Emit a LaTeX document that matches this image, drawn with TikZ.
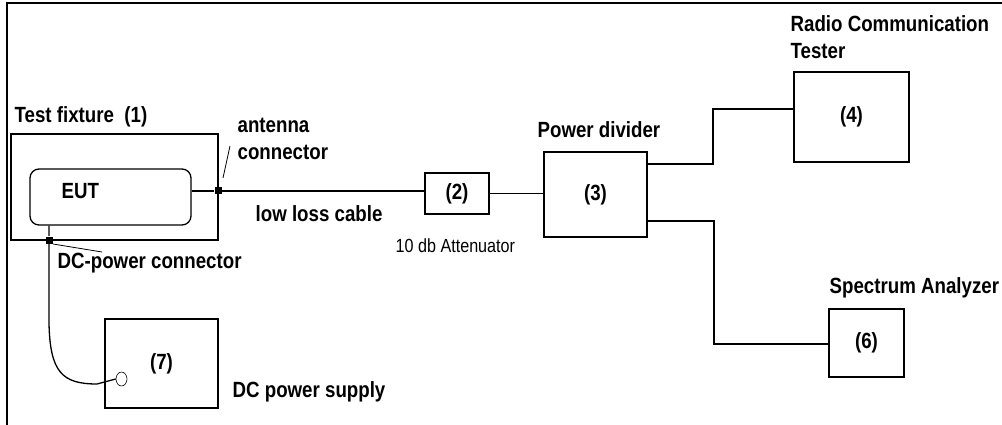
\documentclass[tikz,border=0pt]{standalone}
\usepackage{fontspec}
\setmainfont{Liberation Sans}
\newfontfamily\narrowfont{Liberation Sans}[FakeStretch=0.85]
\newfontfamily\thinfont{Liberation Sans}[FakeStretch=0.85]
\usetikzlibrary{positioning,calc,shapes.geometric}

\begin{document}
\begin{tikzpicture}[x=1pt,y=-1pt,line width=1.3pt,
  lbl/.style={inner sep=0pt,font=\narrowfont\bfseries\fontsize{22}{27}\selectfont},
  small/.style={inner sep=0pt,font=\thinfont\fontsize{19}{22}\selectfont},
  unit/.style={draw,inner sep=0pt,font=\narrowfont\bfseries\fontsize{22}{27}\selectfont},
  jack/.style={fill,inner sep=0pt,minimum size=7pt}]
  \useasboundingbox (0,0) rectangle (1002,425);
  \draw (1002,3) -- (7,3) -- (7,425);

  % test fixture with the EUT inside
  \node[unit,minimum width=207,minimum height=106] (fixture) at (114.5,187) {};
  \node[unit,rounded corners=9pt,minimum width=161,minimum height=56] (eut) at (110.5,197) {};
  \node[lbl,anchor=base west] (euttxt) at (61,199) {EUT};
  \node[lbl,anchor=base west] (fixtxt) at (14,123) {Test fixture~~(1)};
  \node[jack] (ant) at (218,191) {};
  \node[jack] (dcjack) at (49,240) {};

  % measuring chain
  \node[unit,minimum width=64,minimum height=41] (att) at (457,193.5) {(2)};
  \node[unit,minimum width=103,minimum height=85] (div) at (595.5,194.5) {(3)};
  \node[unit,minimum width=115,minimum height=90] (rct) at (851.5,117) {(4)};
  \node[unit,minimum width=75,minimum height=68] (sa) at (866.5,343) {(6)};
  \node[unit,minimum width=113,minimum height=89] (psu) at (161.5,363.5) {(7)};
  \node[draw,ellipse,inner sep=0pt,minimum width=11,minimum height=14,line width=0.6pt] (plug) at (121.5,379) {};

  \node[lbl,anchor=north west,align=left] (anttxt) at (237,117) {antenna\\connector};
  \node[lbl,anchor=base west] (cabletxt) at (255,222) {low loss cable};
  \node[small,anchor=base west] (atttxt) at (395,252) {10 db Attenuator};
  \node[lbl,anchor=base west] (divtxt) at (537,138) {Power divider};
  \node[lbl,anchor=north west,align=left] (rcttxt) at (790,15) {Radio Communication\\Tester};
  \node[lbl,anchor=base west] (satxt) at (829,293) {Spectrum Analyzer};
  \node[lbl,anchor=base west] (dctxt) at (57,268) {DC-power connector};
  \node[lbl,anchor=base west] (psutxt) at (232,397) {DC power supply};

  % cables
  \coordinate (up) at (713,109);
  \coordinate (dn) at (714,344);
  \coordinate (bend) at (49,323);
  \draw (eut.east |- ant) -- (ant) -- (att.west |- ant);
  \draw (att.east) -- (div.west |- att.east);
  \draw ([yshift=30.5pt]div.east) -| (up) -- (up -| rct.west);
  \draw ([yshift=-26.5pt]div.east) -| (dn) -- (dn -| sa.west);
  \draw (eut.south -| dcjack) -- (dcjack) -- (bend) .. controls (50,372) and (62,384) .. (97,384) -- (plug.west);

  % pointers to the connectors
  \draw[line width=0.8pt] ([shift={(5,-13)}]ant.center) -- ([shift={(12,-45)}]ant.center);
  \draw[line width=0.8pt] ([shift={(4,4)}]dcjack.center) -- ([shift={(53,12)}]dcjack.center);
\end{tikzpicture}
\end{document}
